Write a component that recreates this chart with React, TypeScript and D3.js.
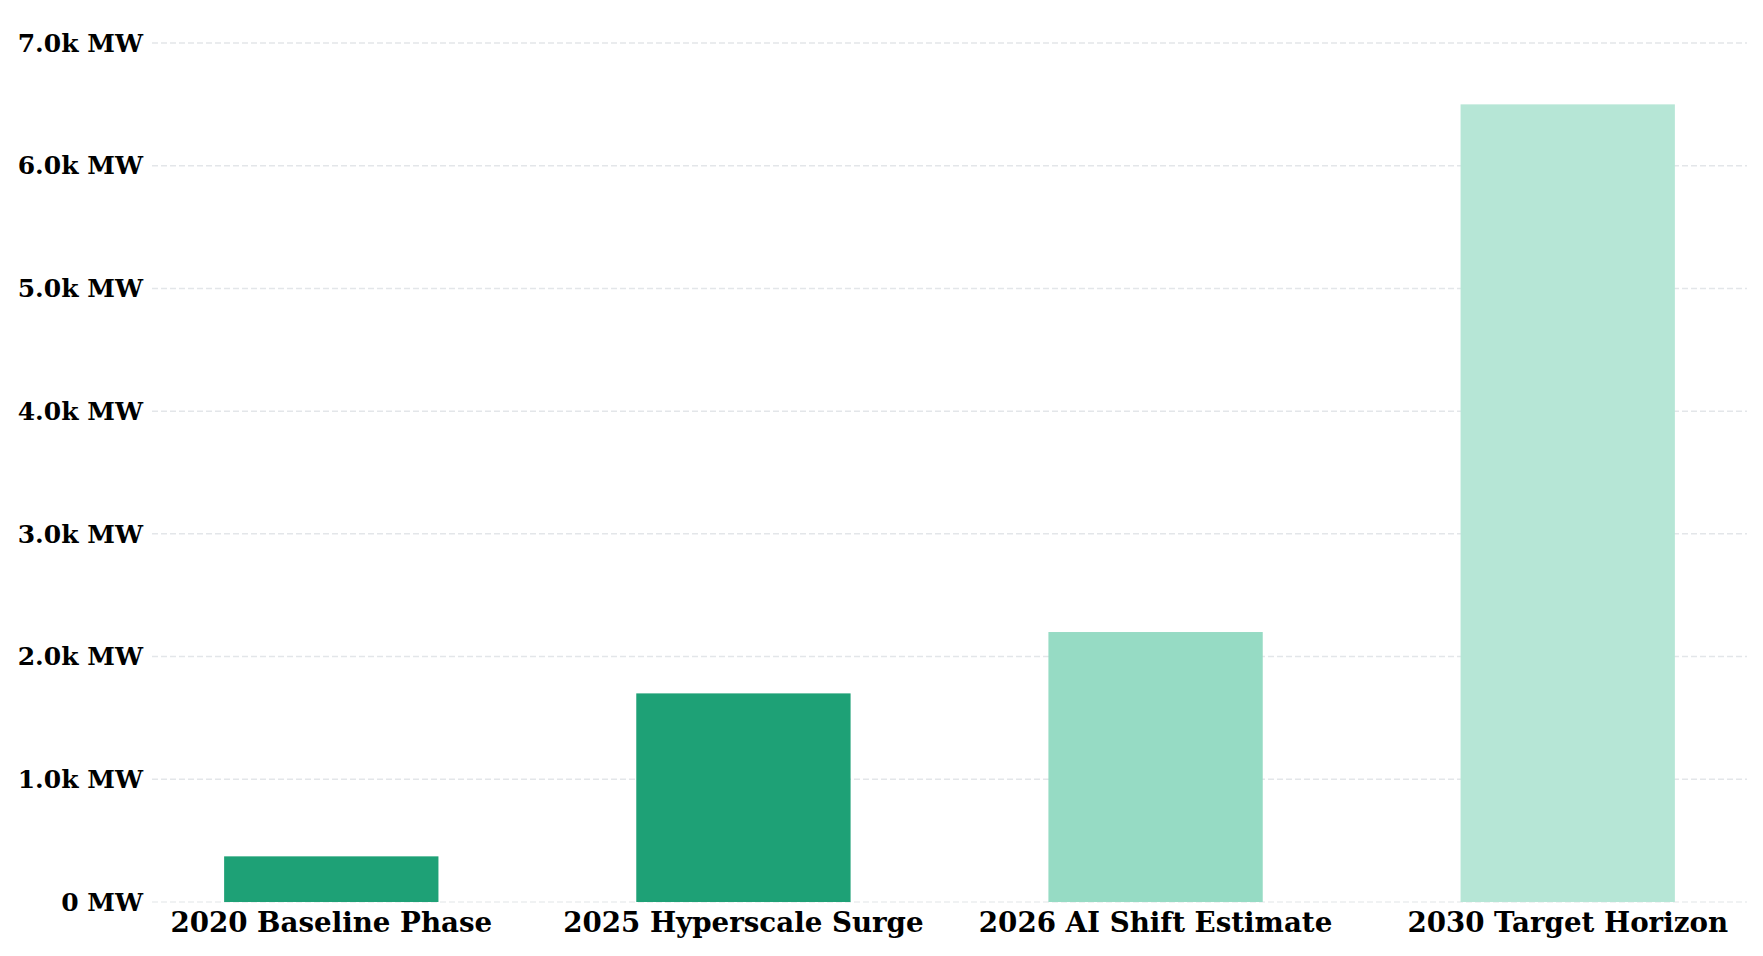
import * as d3 from 'd3';
import { useEffect, useRef } from 'react';

const categories = ['2020 Baseline Phase', '2025 Hyperscale Surge', '2026 AI Shift Estimate', '2030 Target Horizon'];
const capacityMW = [372, 1700, 2200, 6500];
const barColors = ['#1ea176', '#1ea176', '#96dbc4', '#b6e6d6'];
const yTicks = [0, 1000, 2000, 3000, 4000, 5000, 6000, 7000];

const fmt = (v: number) => (v === 0 ? '0 MW' : `${(v / 1000).toFixed(1)}k MW`);

export default function App() {
  const ref = useRef<SVGSVGElement | null>(null);

  useEffect(() => {
    const svg = d3.select(ref.current);
    svg.selectAll('*').remove();
    const width = 1763;
    const height = 956;
    const margin = { top: 43, right: 16, bottom: 54, left: 152 };
    const innerW = width - margin.left - margin.right;
    const innerH = height - margin.top - margin.bottom;
    const g = svg.append('g').attr('transform', `translate(${margin.left},${margin.top})`);

    const x = d3.scaleBand<string>().domain(categories).range([0, innerW]).paddingInner(0.48).paddingOuter(0.175);
    const y = d3.scaleLinear().domain([0, 7000]).range([innerH, 0]);

    // grid
    g.append('g')
      .selectAll('line')
      .data(yTicks)
      .enter()
      .append('line')
      .attr('x1', 0)
      .attr('x2', innerW)
      .attr('y1', (d) => y(d))
      .attr('y2', (d) => y(d))
      .attr('stroke', (d) => (d === 0 ? '#eceef0' : '#e3e6e9'))
      .attr('stroke-width', 1.5)
      .attr('stroke-dasharray', '6,3');

    // y labels
    g.append('g')
      .selectAll('text')
      .data(yTicks)
      .enter()
      .append('text')
      .attr('x', -9)
      .attr('y', (d) => y(d))
      .attr('dy', '0.35em')
      .attr('text-anchor', 'end')
      .attr('font-family', 'DejaVu Serif')
      .attr('font-weight', 'bold')
      .attr('font-size', 25)
      .attr('fill', '#000')
      .text((d) => fmt(d));

    // bars
    g.append('g')
      .selectAll('rect')
      .data(categories)
      .enter()
      .append('rect')
      .attr('x', (d) => x(d)!)
      .attr('y', (_, i) => y(capacityMW[i]))
      .attr('width', x.bandwidth())
      .attr('height', (_, i) => innerH - y(capacityMW[i]))
      .attr('fill', (_, i) => barColors[i]);

    // x labels
    g.append('g')
      .selectAll('text')
      .data(categories)
      .enter()
      .append('text')
      .attr('x', (d) => x(d)! + x.bandwidth() / 2)
      .attr('y', innerH + 30)
      .attr('text-anchor', 'middle')
      .attr('font-family', 'DejaVu Serif')
      .attr('font-weight', 'bold')
      .attr('font-size', 27.7)
      .attr('fill', '#000')
      .text((d) => d);
  }, []);

  return (
    <div>
      <style>{'body{margin:0;background:#fff}'}</style>
      <svg ref={ref} width={1763} height={956} style={{ display: 'block' }} />
    </div>
  );
}
